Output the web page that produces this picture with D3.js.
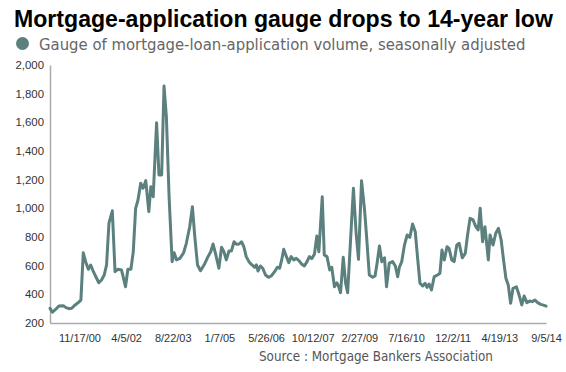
<!DOCTYPE html>
<html><head><meta charset="utf-8">
<script src="https://cdn.jsdelivr.net/npm/d3@7"></script>
<style>body{margin:0;background:#fff}svg{display:block}</style>
</head><body>
<svg id="chart" width="566" height="372"></svg>
<script>
// ---- data (decimal years, index values) ----
const years = [
2000.01,2000.08,2000.18,2000.27,2000.40,2000.48,2000.57,2000.65,2000.75,2000.84,2000.92,2000.99,
2001.06,2001.14,2001.21,2001.29,2001.37,2001.45,2001.53,2001.61,2001.68,2001.75,2001.85,2001.93,
2002.02,2002.12,2002.17,2002.24,2002.31,2002.40,2002.47,2002.54,2002.61,2002.69,2002.76,2002.84,2002.93,2002.99,
2003.06,2003.16,2003.23,2003.31,2003.38,2003.45,2003.53,2003.62,2003.68,2003.75,2003.85,2003.96,
2004.04,2004.14,2004.22,2004.29,2004.37,2004.46,2004.58,2004.68,2004.76,2004.83,2004.90,2005.00,
2005.08,2005.15,2005.22,2005.30,2005.37,2005.45,2005.52,2005.60,2005.67,2005.74,2005.81,2005.89,2005.98,
2006.06,2006.11,2006.16,2006.23,2006.30,2006.38,2006.47,2006.55,2006.65,2006.73,2006.80,2006.86,2006.92,
2007.00,2007.07,2007.14,2007.22,2007.29,2007.37,2007.45,2007.53,2007.61,2007.68,2007.75,2007.83,2007.90,2007.96,
2008.06,2008.12,2008.20,2008.28,2008.34,2008.42,2008.49,2008.54,2008.60,2008.68,2008.75,2008.81,2008.89,2008.98,
2009.06,2009.13,2009.22,2009.31,2009.37,2009.45,2009.55,2009.62,2009.68,2009.75,2009.82,2009.90,2009.96,
2010.04,2010.14,2010.22,2010.29,2010.34,2010.41,2010.49,2010.57,2010.65,2010.73,2010.81,2010.88,2010.95,
2011.03,2011.10,2011.16,2011.22,2011.29,2011.37,2011.47,2011.54,2011.60,2011.67,2011.75,2011.81,2011.89,2011.96,
2012.04,2012.11,2012.20,2012.29,2012.35,2012.43,2012.52,2012.60,2012.67,2012.73,2012.80,2012.87,2012.97,
2013.02,2013.11,2013.19,2013.27,2013.35,2013.42,2013.49,2013.56,2013.63,2013.70,2013.80,2013.88,2013.96,
2014.03,2014.11,2014.20,2014.27,2014.35,2014.43,2014.52,2014.60,2014.68
];
const values = [
302,275,296,319,321,307,300,303,326,342,360,690,
628,575,605,558,519,481,500,535,605,896,983,558,
575,570,523,453,575,575,697,1000,1058,1175,1140,1193,977,1151,
1081,1597,1233,1233,1853,1639,1081,628,690,640,651,690,
756,872,1011,802,605,565,612,663,697,751,686,582,
728,697,640,702,702,767,749,751,767,732,663,628,605,
589,605,563,598,582,535,519,528,558,589,582,640,714,
663,621,663,640,651,635,612,598,628,663,649,681,807,697,
1081,674,663,570,589,453,481,458,411,658,477,411,756,1140,
826,644,1193,988,802,535,519,528,617,737,628,655,453,
617,628,598,523,589,628,744,814,798,891,837,651,477,
458,477,449,472,430,523,535,547,709,640,732,721,640,628,
744,756,655,686,802,930,919,872,849,1000,767,872,640,
814,744,826,861,779,640,512,465,337,442,453,395,326,
388,342,353,349,360,342,330,325,318
];
const yTickValues = [200,400,600,800,1000,1200,1400,1600,1800,2000];
const xTickLabels = ["11/17/00","4/5/02","8/22/03","1/7/05","5/26/06","10/12/07","2/27/09","7/16/10","12/2/11","4/19/13","9/5/14"];
const titleText = "Mortgage-application gauge drops to 14-year low";
const legendText = "Gauge of mortgage-loan-application volume, seasonally adjusted";
const sourceText = "Source : Mortgage Bankers Association";

// ---- setup ----
const lineColor = "#5b807e";
const svg = d3.select("#chart");
const mLeft = 50, mRight = 546, mTop = 65, mBottom = 323;
const sideFont = "'DejaVu Sans Condensed', 'Noto Sans', sans-serif";

const toDate = v => { const yr = Math.floor(v); const s = Date.UTC(yr,0,1), e = Date.UTC(yr+1,0,1); return new Date(s + (v - yr) * (e - s)); };
const parse = d3.utcParse("%m/%d/%y");
const data = years.map((v,i) => ({date: toDate(v), value: values[i]}));

const x = d3.scaleUtc().domain([new Date(Date.UTC(2000,0,4)), new Date(Date.UTC(2014,8,5))]).range([mLeft, mRight]);
const y = d3.scaleLinear().domain([200, 2000]).range([mBottom, mTop]);

function fit(t, w){ const l = t.node().getComputedTextLength(); const fs = parseFloat(t.attr("font-size")); t.attr("font-size", (fs*w/l).toFixed(2)); }

// title
const title = svg.append("text").attr("x", 14).attr("y", 27)
  .attr("font-family", "'Liberation Sans', Arial, sans-serif").attr("font-weight", "bold")
  .attr("font-size", 24).attr("fill", "#000").text(titleText);
fit(title, 539);

// legend
svg.append("circle").attr("cx", 22.5).attr("cy", 43.5).attr("r", 6.5).attr("fill", lineColor);
const leg = svg.append("text").attr("x", 39).attr("y", 50)
  .attr("font-family", sideFont).attr("font-size", 15)
  .attr("fill", "#666").text(legendText);
fit(leg, 487);

// y axis
const yAxis = svg.append("g").attr("transform", `translate(${mLeft},0)`)
  .call(d3.axisLeft(y).tickValues(yTickValues).tickFormat(d3.format(",")).tickSize(0).tickPadding(6));
yAxis.select(".domain").attr("stroke", "#aaa").attr("stroke-width", 1.5);
yAxis.selectAll("text").attr("font-family", "'Liberation Sans', Arial, sans-serif").attr("font-size", 11.4).attr("fill", "#333");

// x axis
const xAxis = svg.append("g").attr("transform", `translate(0,${mBottom})`)
  .call(d3.axisBottom(x).tickValues(xTickLabels.map(parse)).tickFormat((d,i) => xTickLabels[i]).tickSize(0).tickPadding(11));
xAxis.select(".domain").attr("stroke", "#aaa").attr("stroke-width", 1.5);
xAxis.selectAll("text").attr("font-family", "'Liberation Sans', Arial, sans-serif").attr("font-size", 11).attr("fill", "#333");

// line
svg.append("path").datum(data)
  .attr("d", d3.line().x(d => x(d.date)).y(d => y(d.value)))
  .attr("fill", "none").attr("stroke", lineColor).attr("stroke-width", 3)
  .attr("stroke-linejoin", "round").attr("stroke-linecap", "round");

// source
const src = svg.append("text").attr("x", 259).attr("y", 361)
  .attr("font-family", sideFont).attr("font-size", 12)
  .attr("fill", "#555").text(sourceText);
fit(src, 234);
</script>
</body></html>
